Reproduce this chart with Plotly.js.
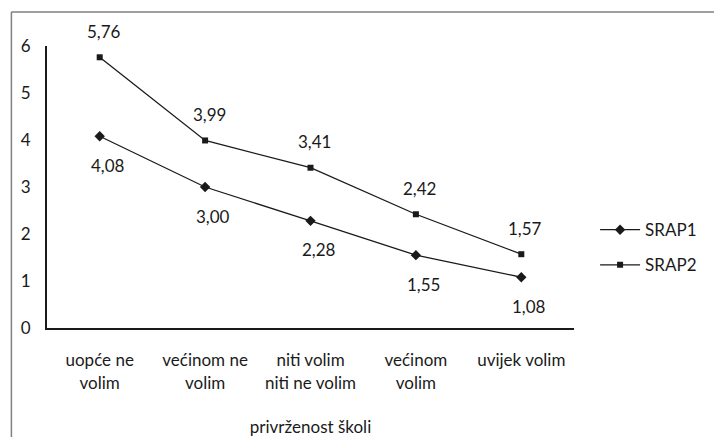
<!DOCTYPE html>
<html>
<head>
<meta charset="utf-8">
<script src="https://cdn.plot.ly/plotly-3.0.1.min.js"></script>
<style>html,body{margin:0;padding:0;background:#fff;}#chart{width:714px;height:437px;}</style>
</head>
<body>
<div id="chart"></div>
<script>
const categories = ["uopće ne<br>volim", "većinom ne<br>volim", "niti volim<br>niti ne volim", "većinom<br>volim", "uvijek volim"];
const srap1 = [4.08, 3.00, 2.28, 1.55, 1.08];
const srap2 = [5.76, 3.99, 3.41, 2.42, 1.57];
const seriesNames = ["SRAP1", "SRAP2"];
const yTicks = [0, 1, 2, 3, 4, 5, 6];
const xTitle = "privrženost školi";

const fmt = v => v.toFixed(2).replace('.', ',');
const FONT = "Lato, sans-serif";
const FS = 17;
const ink = "#1a1a1a";

const traces = [
  {
    x: categories, y: srap1, name: seriesNames[0], type: 'scatter', mode: 'lines+markers',
    line: {color: ink, width: 1.3},
    marker: {symbol: 'diamond', size: 8, color: ink},
    legendgroup: 'a', cliponaxis: false
  },
  {
    x: categories, y: srap2, name: seriesNames[1], type: 'scatter', mode: 'lines+markers',
    line: {color: ink, width: 1.3},
    marker: {symbol: 'square', size: 6, color: ink},
    legendgroup: 'b', cliponaxis: false
  }
];

const labelAnn = (vals, yshift, xshift) => vals.map((v, i) => ({
  x: categories[i], y: v, xref: 'x', yref: 'y', text: fmt(v), showarrow: false,
  yshift: yshift, xshift: xshift, font: {family: FONT, size: FS, color: ink}
}));

const layout = {
  width: 714, height: 437,
  margin: {l: 47, r: 134, t: 46, b: 109},
  paper_bgcolor: '#fff', plot_bgcolor: '#fff',
  font: {family: FONT, size: FS, color: ink},
  showlegend: true,
  legend: {x: 1.04, y: 0.285, xanchor: 'left', yanchor: 'middle', traceorder: 'grouped', tracegroupgap: 10,
           font: {family: FONT, size: FS, color: ink}, itemwidth: 40},
  xaxis: {
    type: 'category', range: [-0.5, 4.5], showgrid: false, zeroline: false,
    showline: true, linecolor: ink, linewidth: 2,
    ticks: 'outside', ticklen: 16, tickcolor: 'rgba(0,0,0,0)',
    tickfont: {family: FONT, size: FS, color: ink},
    title: {text: xTitle, font: {family: FONT, size: FS, color: ink}, standoff: 30}
  },
  yaxis: {
    range: [0, 6], tickvals: yTicks, ticktext: yTicks.map(String), showgrid: false, zeroline: false,
    showline: true, linecolor: ink, linewidth: 2,
    ticks: 'outside', ticklen: 11, tickcolor: 'rgba(0,0,0,0)',
    tickfont: {family: FONT, size: FS, color: ink}
  },
  annotations: labelAnn(srap1, -29, 8).concat(labelAnn(srap2, 26, 4)),
  shapes: [
    {type: 'line', xref: 'paper', yref: 'paper', x0: -36/533, x1: 700/533, y0: 1 + 34/282, y1: 1 + 34/282, line: {color: '#808080', width: 1.5}},
    {type: 'line', xref: 'paper', yref: 'paper', x0: -36/533, x1: -36/533, y0: 1 + 34/282, y1: -120/282, line: {color: '#808080', width: 1.5}}
  ]
};

Plotly.newPlot('chart', traces, layout, {displayModeBar: false, staticPlot: true});
</script>
</body>
</html>
